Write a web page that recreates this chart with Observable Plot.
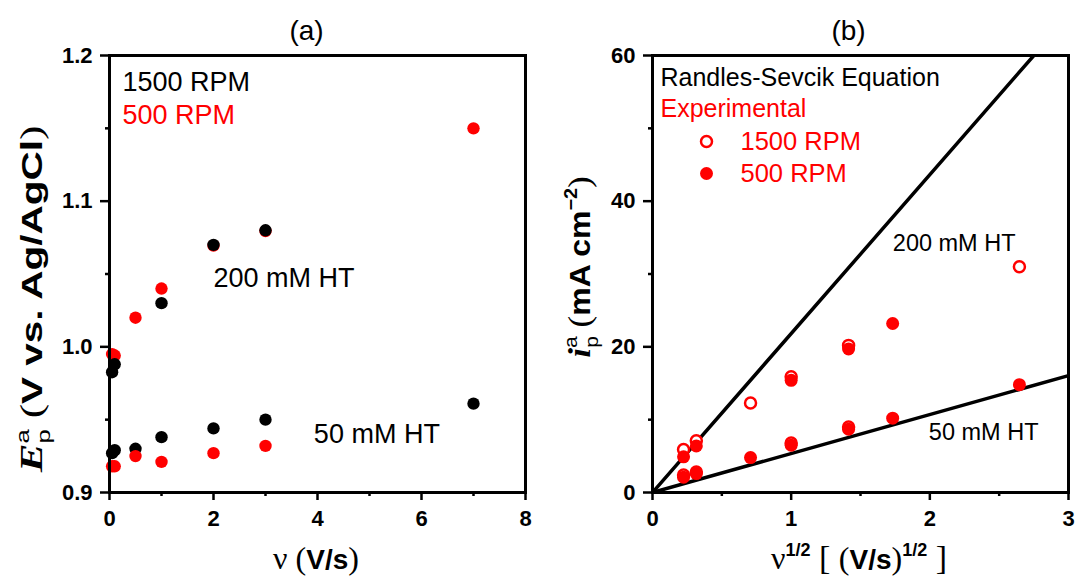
<!DOCTYPE html>
<html>
<head>
<meta charset="utf-8">
<script src="https://cdn.jsdelivr.net/npm/d3@7"></script>
<script src="https://cdn.jsdelivr.net/npm/@observablehq/plot@0.6"></script>
<style>
  html, body { margin: 0; padding: 0; background: #fff; }
  #wrap { display: flex; width: 1076px; height: 581px; overflow: hidden; }
</style>
</head>
<body>
<div id="wrap"></div>
<script>
// ---------- Panel (a): peak potential vs scan rate ----------
const aXTicks = [0, 2, 4, 6, 8];
const aXMinor = [1, 3, 5, 7];
const aYTicks = [0.9, 1.0, 1.1, 1.2];
const aYMinor = [0.95, 1.05, 1.15];

const a200RedX   = [0.05, 0.1, 0.5, 1, 2, 3, 7];
const a200RedY   = [0.995, 0.994, 1.020, 1.040, 1.0695, 1.0795, 1.150];
const a200BlackX = [0.05, 0.1, 1, 2, 3];
const a200BlackY = [0.9826, 0.988, 1.030, 1.070, 1.080];
const a50BlackX  = [0.05, 0.1, 0.5, 1, 2, 3, 7];
const a50BlackY  = [0.927, 0.929, 0.930, 0.938, 0.944, 0.950, 0.961];
const a50RedX    = [0.05, 0.1, 0.5, 1, 2, 3];
const a50RedY    = [0.918, 0.918, 0.925, 0.921, 0.927, 0.932];

const aLegend = ["1500 RPM", "500 RPM"];
const aNotes = [
  {label: "200 mM HT", x: 2.0, y: 1.0414},
  {label: "50 mM HT", x: 3.93, y: 0.9338}
];

// ---------- Panel (b): peak current vs sqrt(scan rate) ----------
const bXTicks = [0, 1, 2, 3];
const bXMinor = [0.5, 1.5, 2.5];
const bYTicks = [0, 20, 40, 60];
const bYMinor = [10, 30, 50];

const rs200X = [0, 2.75];
const rs200Y = [0, 60];
const rs50X  = [0, 3];
const rs50Y  = [0, 16.05];

const b1500_200X = [0.224, 0.316, 0.707, 1, 1.414, 2.646];
const b1500_200Y = [5.9, 7.1, 12.3, 15.9, 20.2, 31.0];
const b1500_50X  = [0.224, 0.316, 1, 1.414];
const b1500_50Y  = [2.4, 2.8, 6.8, 9.0];
const b500_200X  = [0.224, 0.316, 1, 1.414, 1.732];
const b500_200Y  = [4.9, 6.4, 15.4, 19.7, 23.2];
const b500_50X   = [0.224, 0.316, 0.707, 1, 1.414, 1.732, 2.646];
const b500_50Y   = [2.1, 2.6, 4.8, 6.5, 8.7, 10.2, 14.8];

const bNotes = [
  {label: "200 mM HT", x: 1.733, y: 33.2},
  {label: "50 mM HT", x: 1.993, y: 7.14}
];

// ---------- helpers ----------
const SANS = "'Liberation Sans', Arial, Helvetica, sans-serif";
const SERIF = "'Liberation Serif', 'Times New Roman', serif";
const pts = (xs, ys) => xs.map((x, i) => ({x, y: ys[i]}));

function axes(xT, xM, yT, yM, yFmt) {
  const common = {label: null, stroke: "black", strokeWidth: 2.5, fontSize: 22, fontWeight: "bold", fill: "black"};
  return [
    Plot.axisX({...common, ticks: xT, tickSize: 8, tickPadding: 10, tickFormat: d => String(d)}),
    Plot.axisX({...common, ticks: xM, tickSize: 4, tickFormat: () => ""}),
    Plot.axisY({...common, ticks: yT, tickSize: 9, tickPadding: 8, tickFormat: yFmt}),
    Plot.axisY({...common, ticks: yM, tickSize: 4, tickFormat: () => ""})
  ];
}

function richLabel(svg, {x, y, rotate = 0, scaleX = 1}, parts) {
  const t = d3.select(svg).append("text")
    .attr("transform", `translate(${x},${y}) rotate(${rotate}) scale(${scaleX},1)`)
    .attr("text-anchor", "middle")
    .attr("fill", "black");
  for (const p of parts) {
    const s = t.append("tspan").text(p.text)
      .attr("font-family", p.family || SANS)
      .attr("font-size", p.size)
      .attr("font-weight", p.weight || "normal")
      .attr("font-style", p.style || "normal");
    if (p.dx) s.attr("dx", p.dx);
    if (p.dy) s.attr("dy", p.dy);
  }
}

const style = {fontFamily: SANS, fontSize: "22px", background: "white", color: "black", overflow: "visible"};

// ---------- Plot (a) ----------
const plotA = Plot.plot({
  width: 538, height: 581,
  marginLeft: 109, marginRight: 13, marginTop: 55, marginBottom: 89,
  style,
  x: {domain: [0, 8]},
  y: {domain: [0.9, 1.2]},
  marks: [
    ...axes(aXTicks, aXMinor, aYTicks, aYMinor, d => d.toFixed(1)),
    Plot.dot(pts(a200RedX, a200RedY), {x: "x", y: "y", r: 6.2, fill: "#ff0000"}),
    Plot.dot(pts(a200BlackX, a200BlackY), {x: "x", y: "y", r: 6.2, fill: "black"}),
    Plot.dot(pts(a50BlackX, a50BlackY), {x: "x", y: "y", r: 6.2, fill: "black"}),
    Plot.dot(pts(a50RedX, a50RedY), {x: "x", y: "y", r: 6.2, fill: "#ff0000"}),
    Plot.text(aNotes, {x: "x", y: "y", text: "label", textAnchor: "start", lineAnchor: "bottom", fontSize: 27, fill: "black"}),
    Plot.text([aLegend[0]], {frameAnchor: "top-left", dx: 13, dy: 35, textAnchor: "start", lineAnchor: "bottom", fontSize: 27, fill: "black"}),
    Plot.text([aLegend[1]], {frameAnchor: "top-left", dx: 13, dy: 68, textAnchor: "start", lineAnchor: "bottom", fontSize: 27, fill: "#ff0000"}),
    Plot.text(["(a)"], {frameAnchor: "top", dx: -11, dy: -16, lineAnchor: "bottom", fontSize: 28, fill: "black"}),
    Plot.frame({stroke: "black", strokeWidth: 3})
  ]
});

// ---------- Plot (b) ----------
const plotB = Plot.plot({
  width: 538, height: 581,
  marginLeft: 114, marginRight: 8, marginTop: 55, marginBottom: 89,
  style,
  x: {domain: [0, 3]},
  y: {domain: [0, 60]},
  marks: [
    ...axes(bXTicks, bXMinor, bYTicks, bYMinor, d => String(d)),
    Plot.line(pts(rs200X, rs200Y), {x: "x", y: "y", stroke: "black", strokeWidth: 3.5, clip: true}),
    Plot.line(pts(rs50X, rs50Y), {x: "x", y: "y", stroke: "black", strokeWidth: 3.5, clip: true}),
    Plot.dot(pts(b1500_200X, b1500_200Y), {x: "x", y: "y", r: 5.5, fill: "white", stroke: "#ff0000", strokeWidth: 2.5}),
    Plot.dot(pts(b1500_50X, b1500_50Y), {x: "x", y: "y", r: 5.5, fill: "white", stroke: "#ff0000", strokeWidth: 2.5}),
    Plot.dot(pts(b500_200X, b500_200Y), {x: "x", y: "y", r: 6.5, fill: "#ff0000"}),
    Plot.dot(pts(b500_50X, b500_50Y), {x: "x", y: "y", r: 6.5, fill: "#ff0000"}),
    Plot.text(bNotes, {x: "x", y: "y", text: "label", textAnchor: "start", lineAnchor: "bottom", fontSize: 23.5, fill: "black"}),
    Plot.text(["Randles-Sevcik Equation"], {frameAnchor: "top-left", dx: 8, dy: 30, textAnchor: "start", lineAnchor: "bottom", fontSize: 25, fill: "black"}),
    Plot.text(["Experimental"], {frameAnchor: "top-left", dx: 8, dy: 61, textAnchor: "start", lineAnchor: "bottom", fontSize: 25, fill: "#ff0000"}),
    Plot.dot([0], {frameAnchor: "top-left", dx: 54, dy: 86, r: 5.5, fill: "white", stroke: "#ff0000", strokeWidth: 2.5}),
    Plot.dot([0], {frameAnchor: "top-left", dx: 54, dy: 118, r: 6.5, fill: "#ff0000"}),
    Plot.text(["1500 RPM"], {frameAnchor: "top-left", dx: 88, dy: 94, textAnchor: "start", lineAnchor: "bottom", fontSize: 25.5, fill: "#ff0000"}),
    Plot.text(["500 RPM"], {frameAnchor: "top-left", dx: 88, dy: 126, textAnchor: "start", lineAnchor: "bottom", fontSize: 25.5, fill: "#ff0000"}),
    Plot.text(["(b)"], {frameAnchor: "top", dx: -12, dy: -16, lineAnchor: "bottom", fontSize: 28, fill: "black"}),
    Plot.frame({stroke: "black", strokeWidth: 3})
  ]
});

// ---------- axis titles with sub/superscripts ----------
richLabel(plotA, {x: 42, y: 299, rotate: -90, scaleX: 1.35}, [
  {text: "E", family: SERIF, style: "italic", weight: "bold", size: 32},
  {text: "a", size: 19, dy: -13},
  {text: "p", size: 19, dx: -10.5, dy: 21},
  {text: " (", family: SERIF, size: 32, dy: -8},
  {text: "V vs. Ag/AgCl", weight: "bold", size: 30},
  {text: ")", family: SERIF, size: 32}
]);
richLabel(plotA, {x: 316, y: 569}, [
  {text: "ν", family: SERIF, size: 32},
  {text: " (", family: SERIF, size: 32},
  {text: "V/s", weight: "bold", size: 28},
  {text: ")", family: SERIF, size: 32}
]);
richLabel(plotB, {x: 590 - 538, y: 267, rotate: -90, scaleX: 1.1}, [
  {text: "i", family: SERIF, style: "italic", weight: "bold", size: 32},
  {text: "a", size: 19, dy: -13},
  {text: "p", size: 19, dx: -10.5, dy: 21},
  {text: " (", family: SERIF, size: 32, dy: -8},
  {text: "mA cm", weight: "bold", size: 29},
  {text: "−2", weight: "bold", size: 18, dy: -13},
  {text: ")", family: SERIF, size: 32, dy: 13}
]);
richLabel(plotB, {x: 859 - 538, y: 569}, [
  {text: "ν", family: SERIF, size: 32},
  {text: "1/2", weight: "bold", size: 18, dy: -13},
  {text: " [ ", family: SERIF, size: 34, dy: 13},
  {text: "(", family: SERIF, size: 32},
  {text: "V/s", weight: "bold", size: 28},
  {text: ")", family: SERIF, size: 32},
  {text: "1/2", weight: "bold", size: 18, dy: -13},
  {text: " ]", family: SERIF, size: 34, dy: 13}
]);

const wrap = document.getElementById("wrap");
wrap.appendChild(plotA);
wrap.appendChild(plotB);
</script>
</body>
</html>
